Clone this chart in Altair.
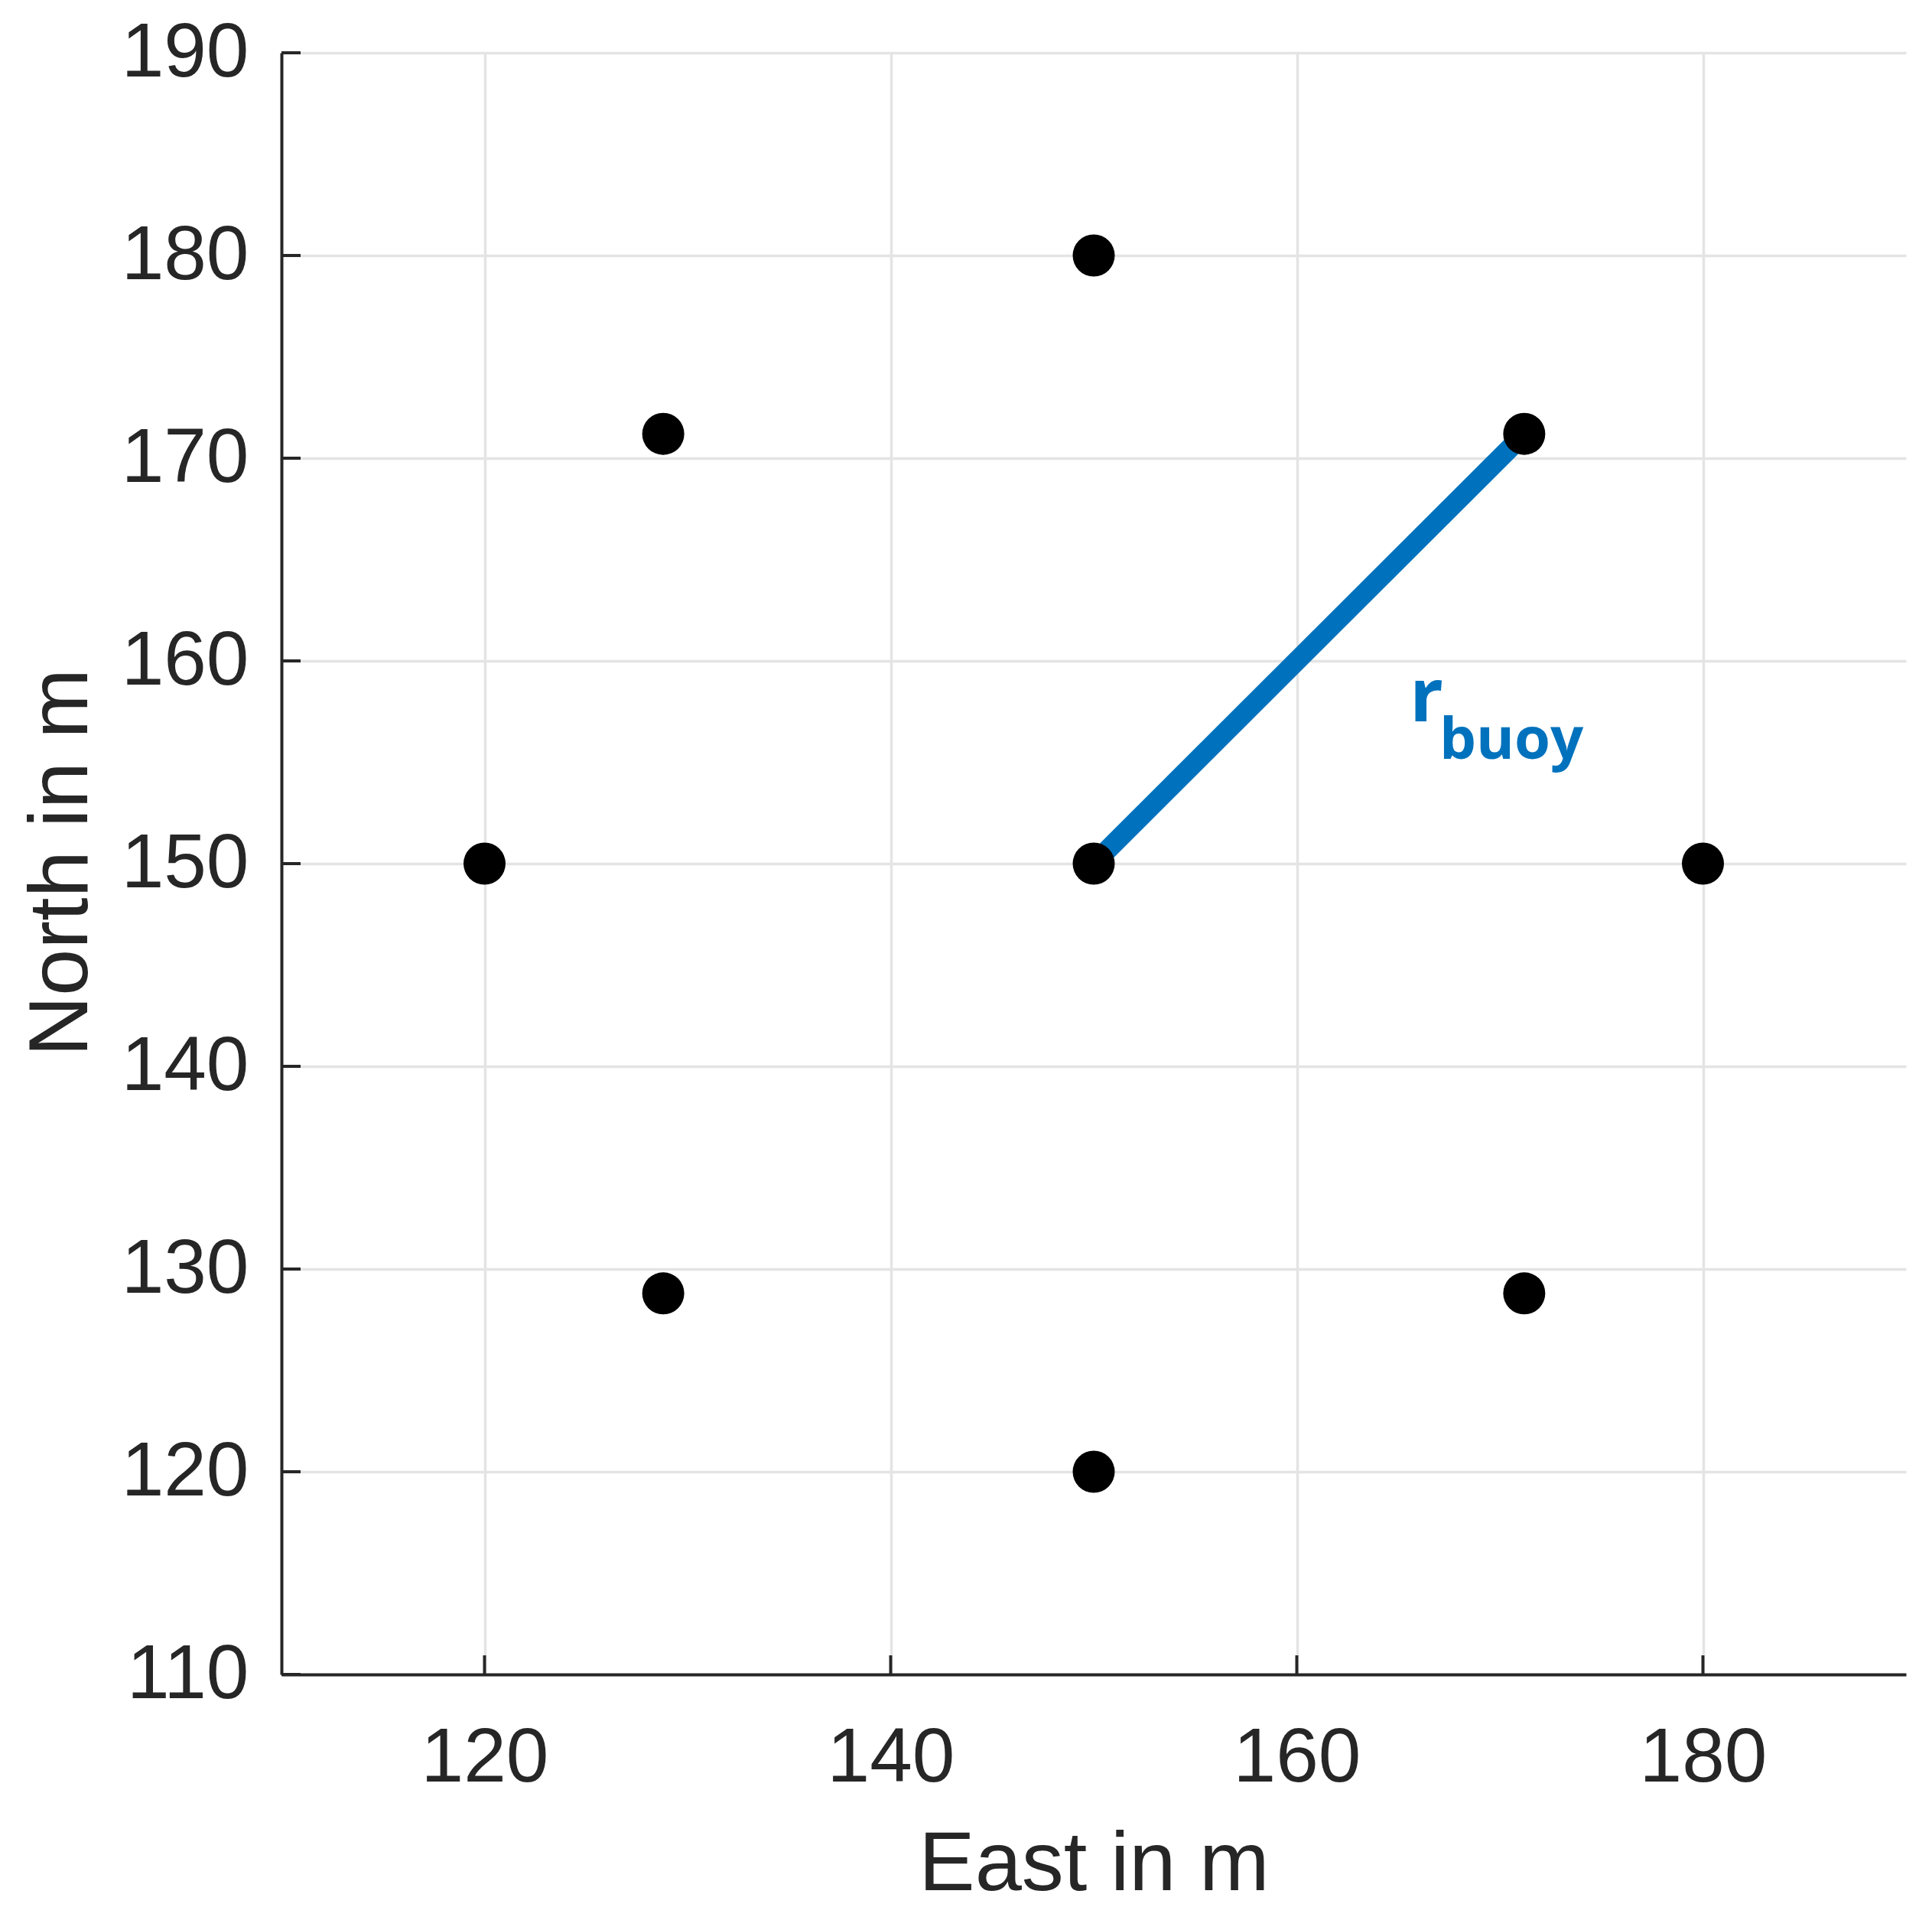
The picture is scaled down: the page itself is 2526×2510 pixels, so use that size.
import altair as alt
import pandas as pd

# Buoy positions
east = [150, 120, 180, 150, 150, 128.8, 171.2, 128.8, 171.2]
north = [150, 150, 150, 180, 120, 171.2, 171.2, 128.8, 128.8]

# Radius line
line_east = [150, 171.2]
line_north = [150, 171.2]

# Ticks
x_ticks = [120, 140, 160, 180]
y_ticks = [110, 120, 130, 140, 150, 160, 170, 180, 190]

# Annotation r_buoy
main_text = ["r"]
main_east = [165.56]
main_north = [157.02]
sub_text = ["buoy"]
sub_east = [167.02]
sub_north = [155.17]

W, H = 2124, 2120
TXT = "#262626"
BLUE = "#0072BD"
FONT = "Liberation Sans"

pts = pd.DataFrame({"east": east, "north": north})
ln = pd.DataFrame({"east": line_east, "north": line_north})
xt = pd.DataFrame({"east": x_ticks})
yt = pd.DataFrame({"north": y_ticks})
t1 = pd.DataFrame({"east": main_east, "north": main_north, "t": main_text})
t2 = pd.DataFrame({"east": sub_east, "north": sub_north, "t": sub_text})

xscale = alt.Scale(domain=[110, 190], nice=False, zero=False)
yscale = alt.Scale(domain=[110, 190], nice=False, zero=False)

xaxis = alt.Axis(
    values=x_ticks, grid=True, gridColor="#e4e4e4", gridWidth=3.5,
    domainColor=TXT, domainWidth=4, ticks=False, tickSize=0,
    labelFont=FONT, labelFontSize=100, labelColor=TXT,
    labelBaseline="alphabetic", labelPadding=139, labelFlush=False,
    labelOverlap=False,
    titleFont=FONT, titleFontSize=110, titleFontWeight="normal",
    titleColor=TXT, titleBaseline="alphabetic", titleAlign="center",
    titleX=W / 2, titleY=281,
)
yaxis = alt.Axis(
    values=y_ticks, grid=True, gridColor="#e4e4e4", gridWidth=3.5,
    domainColor=TXT, domainWidth=4, ticks=False, tickSize=0,
    labelFont=FONT, labelFontSize=100, labelColor=TXT,
    labelAlign="right", labelBaseline="middle", labelPadding=43,
    labelFlush=False, labelOverlap=False,
    titleFont=FONT, titleFontSize=110, titleFontWeight="normal",
    titleColor=TXT, titleAngle=270, titleBaseline="alphabetic",
    titleAlign="center", titleX=-255, titleY=1058,
)


def X():
    return alt.X("east:Q", scale=xscale, axis=xaxis, title="East in m")


def Y():
    return alt.Y("north:Q", scale=yscale, axis=yaxis, title="North in m")


line = alt.Chart(ln).mark_line(color=BLUE, strokeWidth=26).encode(x=X(), y=Y())
dots = alt.Chart(pts).mark_circle(color="black", opacity=1, size=3025).encode(x=X(), y=Y())
xtick = alt.Chart(xt).mark_rule(color=TXT, strokeWidth=4).encode(
    x=X(), y=alt.value(H), y2=alt.value(H - 25)
)
ytick = alt.Chart(yt).mark_rule(color=TXT, strokeWidth=4).encode(
    y=Y(), x=alt.value(0), x2=alt.value(25)
)
lab1 = alt.Chart(t1).mark_text(
    align="left", baseline="alphabetic", font="Open Sans", fontWeight="bold",
    fontSize=97, color=BLUE,
).encode(x=X(), y=Y(), text="t:N")
lab2 = alt.Chart(t2).mark_text(
    align="left", baseline="alphabetic", font="Open Sans", fontWeight="bold",
    fontSize=76, color=BLUE,
).encode(x=X(), y=Y(), text="t:N")

chart = (
    alt.layer(line, dots, xtick, ytick, lab1, lab2)
    .properties(
        width=W, height=H,
        autosize=alt.AutoSizeParams(type="none"),
        padding={"left": 360, "top": 61, "right": 20, "bottom": 320},
        background="white",
    )
    .configure_view(stroke=None)
)

chart.save("out.html", embed_options={"renderer": "svg", "actions": False})
